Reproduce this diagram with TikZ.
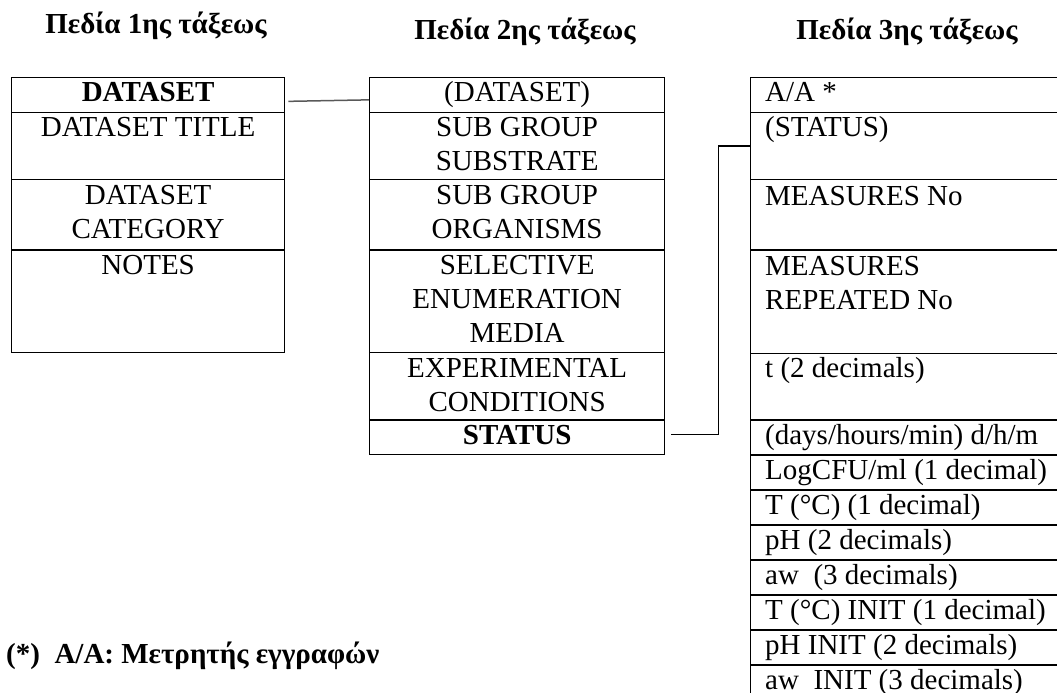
\documentclass[tikz,border=0pt]{standalone}
\usepackage{fontspec}
\setmainfont{Liberation Serif}
% stacked lines whose baseline is that of the first line
\newcommand{\clines}[1]{\begin{tabular}[t]{@{}c@{}}#1\end{tabular}}
\newcommand{\llines}[1]{\begin{tabular}[t]{@{}l@{}}#1\end{tabular}}
\begin{document}
\begin{tikzpicture}[x=1pt,y=-1pt,
  box/.style={draw=black,line width=1.3pt,inner sep=0pt,anchor=north west},
  ctext/.style={anchor=base,inner sep=0pt,font=\fontsize{29}{34}\selectfont},
  ltext/.style={anchor=base west,inner sep=0pt,font=\fontsize{29}{34}\selectfont},
  head/.style={anchor=base,inner sep=0pt,font=\fontsize{29}{34}\selectfont\bfseries},
  link/.style={line width=1.3pt,draw=black},
  graylink/.style={line width=1.5pt,draw=black!65}]
\useasboundingbox (0,0) rectangle (1057,693);
\clip (0,0) rectangle (1057,693);

% column headers
\node[head] (h1) at (156,34) {Πεδία 1ης τάξεως};
\node[head] (h2) at (525,40) {Πεδία 2ης τάξεως};
\node[head] (h3) at (907,40) {Πεδία 3ης τάξεως};

% first-order fields
\node[box,minimum width=273,minimum height=35]    (a1) at (11,76.7) {};
\node[box,minimum width=273,minimum height=67.3]  (a2) at (11,111.7) {};
\node[box,minimum width=273,minimum height=70.3]  (a3) at (11,179) {};
\node[box,minimum width=273,minimum height=102.7] (a4) at (11,249.3) {};
\node[ctext] (ta1) at ([yshift=-25pt]a1.north) {\textbf{DATASET}};
\node[ctext] (ta2) at ([yshift=-25pt]a2.north) {DATASET TITLE};
\node[ctext] (ta3) at ([yshift=-25pt]a3.north) {\clines{DATASET\\CATEGORY}};
\node[ctext] (ta4) at ([yshift=-25pt]a4.north) {NOTES};

% second-order fields
\node[box,minimum width=295,minimum height=35]    (b1) at (369,76.7) {};
\node[box,minimum width=295,minimum height=67.3]  (b2) at (369,111.7) {};
\node[box,minimum width=295,minimum height=70.3]  (b3) at (369,179) {};
\node[box,minimum width=295,minimum height=102.7] (b4) at (369,249.3) {};
\node[box,minimum width=295,minimum height=67.3]  (b5) at (369,352) {};
\node[box,minimum width=295,minimum height=34.7]  (b6) at (369,419.3) {};
\node[ctext] (tb1) at ([yshift=-25pt]b1.north) {(DATASET)};
\node[ctext] (tb2) at ([yshift=-25pt]b2.north) {\clines{SUB GROUP\\SUBSTRATE}};
\node[ctext] (tb3) at ([yshift=-25pt]b3.north) {\clines{SUB GROUP\\ORGANISMS}};
\node[ctext] (tb4) at ([yshift=-25pt]b4.north) {\clines{SELECTIVE\\ENUMERATION\\MEDIA}};
\node[ctext] (tb5) at ([yshift=-25pt]b5.north) {\clines{EXPERIMENTAL\\CONDITIONS}};
\node[ctext] (tb6) at ([yshift=-25pt]b6.north) {\textbf{STATUS}};

% third-order fields
\node[box,minimum width=340,minimum height=35]    (c1)  at (750,76.7) {};
\node[box,minimum width=340,minimum height=67.3]  (c2)  at (750,111.7) {};
\node[box,minimum width=340,minimum height=70.3]  (c3)  at (750,179) {};
\node[box,minimum width=340,minimum height=103.4] (c4)  at (750,249.3) {};
\node[box,minimum width=340,minimum height=66.6]  (c5)  at (750,352.7) {};
\node[box,minimum width=340,minimum height=35]    (c6)  at (750,419.3) {};
\node[box,minimum width=340,minimum height=35]    (c7)  at (750,454.3) {};
\node[box,minimum width=340,minimum height=35]    (c8)  at (750,489.3) {};
\node[box,minimum width=340,minimum height=35]    (c9)  at (750,524.3) {};
\node[box,minimum width=340,minimum height=35]    (c10) at (750,559.3) {};
\node[box,minimum width=340,minimum height=35]    (c11) at (750,594.3) {};
\node[box,minimum width=340,minimum height=35]    (c12) at (750,629.3) {};
\node[box,minimum width=340,minimum height=35]    (c13) at (750,664.3) {};
\node[ltext] (tc1)  at ([shift={(15pt,-25pt)}]c1.north west)  {A/A *};
\node[ltext] (tc2)  at ([shift={(15pt,-25pt)}]c2.north west)  {(STATUS)};
\node[ltext] (tc3)  at ([shift={(15pt,-26pt)}]c3.north west)  {MEASURES No};
\node[ltext] (tc4)  at ([shift={(15pt,-26pt)}]c4.north west)  {\llines{MEASURES\\REPEATED No}};
\node[ltext] (tc5)  at ([shift={(15pt,-25pt)}]c5.north west)  {t (2 decimals)};
\node[ltext] (tc6)  at ([shift={(15pt,-25pt)}]c6.north west)  {(days/hours/min) d/h/m};
\node[ltext] (tc7)  at ([shift={(15pt,-25pt)}]c7.north west)  {LogCFU/ml (1 decimal)};
\node[ltext] (tc8)  at ([shift={(15pt,-25pt)}]c8.north west)  {T (°C) (1 decimal)};
\node[ltext] (tc9)  at ([shift={(15pt,-25pt)}]c9.north west)  {pH (2 decimals)};
\node[ltext] (tc10) at ([shift={(15pt,-25pt)}]c10.north west) {aw\ \ (3 decimals)};
\node[ltext] (tc11) at ([shift={(15pt,-25pt)}]c11.north west) {T (°C) INIT (1 decimal)};
\node[ltext] (tc12) at ([shift={(15pt,-25pt)}]c12.north west) {pH INIT (2 decimals)};
\node[ltext] (tc13) at ([shift={(15pt,-25pt)}]c13.north west) {aw\ \ INIT (3 decimals)};

% connectors between the tables
\draw[graylink] ([shift={(3,6.5)}]a1.east) -- ([shift={(0,5)}]b1.west);
\draw[link] ([shift={(6,-2.5)}]b6.east) -- ++(47,0) |- (c2.west);

% footnote
\node[head,anchor=base west] (note) at (6,663) {(*)\ \ A/A: Μετρητής εγγραφών};
\end{tikzpicture}
\end{document}
